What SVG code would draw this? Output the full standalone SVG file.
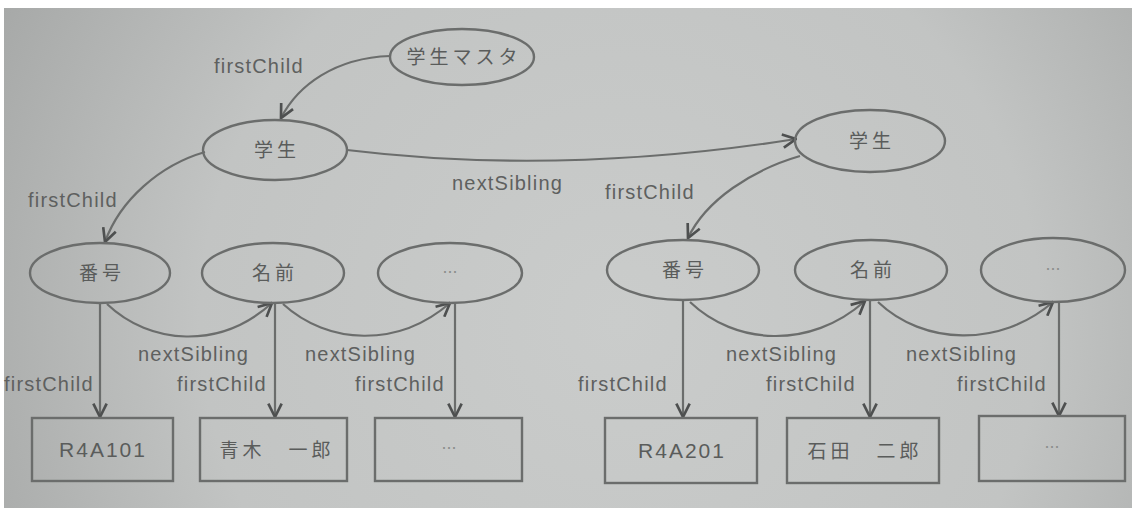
<svg xmlns="http://www.w3.org/2000/svg" width="1132" height="508" viewBox="0 0 1132 508">
  <defs>
    <radialGradient id="paper" gradientUnits="userSpaceOnUse" cx="620" cy="320" r="700">
      <stop offset="0" stop-color="#cacccb"/>
      <stop offset="0.6" stop-color="#c2c4c3"/>
      <stop offset="1" stop-color="#a6a8a7"/>
    </radialGradient>
    <marker id="arrow" markerUnits="userSpaceOnUse" markerWidth="16" markerHeight="16" viewBox="0 0 12 12" refX="11" refY="6" orient="auto">
      <path d="M1,1 L11,6 L1,11" fill="none" stroke="#4e5050" stroke-width="2"/>
    </marker>
    <style>
      .node { fill: none; stroke: #6b6d6c; stroke-width: 2.4; }
      .edge { fill: none; stroke: #6b6d6c; stroke-width: 2.2; marker-end: url(#arrow); }
      .jp { font-family: "Noto Sans CJK JP", "Noto Sans", sans-serif; font-size: 19px; fill: #5a5c5b; text-anchor: middle; letter-spacing: 4px; }
      .dots { font-family: "Noto Sans CJK JP", sans-serif; font-size: 15px; fill: #8a8c8b; text-anchor: middle; }
      .code { font-family: "Liberation Sans", Arial, sans-serif; font-size: 21px; fill: #5a5c5b; text-anchor: middle; letter-spacing: 2px; }
      .lbl { font-family: "Liberation Sans", Arial, sans-serif; font-size: 20px; fill: #5e605f; letter-spacing: 1.2px; }
    </style>
  </defs>

  <!-- page -->
  <rect x="0" y="0" width="1132" height="508" fill="#ffffff"/>
  <rect x="4" y="8" width="1128" height="500" fill="url(#paper)"/>

  <!-- connectors -->
  <g id="connectors">
    <path class="edge" d="M390,56 C335,58 298,85 281,118"/>
    <path class="edge" d="M205,152 C160,165 120,200 105,242"/>
    <path class="edge" d="M347,150 Q560,176 796,139"/>
    <path class="edge" d="M800,156 C752,170 706,200 688,238"/>

    <!-- left subtree -->
    <path class="edge" d="M100,303 L100,417"/>
    <path class="edge" d="M275,303 L275,417"/>
    <path class="edge" d="M455,303 L455,417"/>
    <path class="edge" d="M107,304 C150,345 220,350 272,303"/>
    <path class="edge" d="M283,304 C328,345 398,348 450,303"/>

    <!-- right subtree -->
    <path class="edge" d="M683,300 L683,417"/>
    <path class="edge" d="M870,300 L870,417"/>
    <path class="edge" d="M1059,302 L1059,416"/>
    <path class="edge" d="M690,302 C735,345 810,350 865,301"/>
    <path class="edge" d="M878,302 C923,345 1000,348 1053,302"/>

    <!-- connector labels -->
    <text class="lbl" x="214" y="73">firstChild</text>
    <text class="lbl" x="28" y="207">firstChild</text>
    <text class="lbl" x="452" y="190">nextSibling</text>
    <text class="lbl" x="605" y="199">firstChild</text>

    <text class="lbl" x="138" y="361">nextSibling</text>
    <text class="lbl" x="305" y="361">nextSibling</text>
    <text class="lbl" x="4" y="391">firstChild</text>
    <text class="lbl" x="177" y="391">firstChild</text>
    <text class="lbl" x="355" y="391">firstChild</text>

    <text class="lbl" x="726" y="361">nextSibling</text>
    <text class="lbl" x="906" y="361">nextSibling</text>
    <text class="lbl" x="578" y="391">firstChild</text>
    <text class="lbl" x="766" y="391">firstChild</text>
    <text class="lbl" x="957" y="391">firstChild</text>
  </g>

  <!-- element nodes -->
  <g id="master">
    <ellipse class="node" cx="462" cy="57" rx="72" ry="28"/>
    <text class="jp" x="464" y="64">学生マスタ</text>
  </g>
  <g id="student1">
    <ellipse class="node" cx="275" cy="150" rx="72" ry="30"/>
    <text class="jp" x="277" y="157">学生</text>
  </g>
  <g id="student2">
    <ellipse class="node" cx="870" cy="141" rx="75" ry="31"/>
    <text class="jp" x="872" y="148">学生</text>
  </g>

  <g id="number1">
    <ellipse class="node" cx="100" cy="273" rx="70" ry="30"/>
    <text class="jp" x="102" y="280">番号</text>
  </g>
  <g id="name1">
    <ellipse class="node" cx="273" cy="273" rx="71" ry="30"/>
    <text class="jp" x="275" y="280">名前</text>
  </g>
  <g id="more1">
    <ellipse class="node" cx="450" cy="273" rx="72" ry="30"/>
    <text class="dots" x="450" y="278">…</text>
  </g>

  <g id="number2">
    <ellipse class="node" cx="683" cy="270" rx="76" ry="30"/>
    <text class="jp" x="685" y="277">番号</text>
  </g>
  <g id="name2">
    <ellipse class="node" cx="871" cy="270" rx="76" ry="30"/>
    <text class="jp" x="873" y="277">名前</text>
  </g>
  <g id="more2">
    <ellipse class="node" cx="1053" cy="270" rx="72" ry="32"/>
    <text class="dots" x="1053" y="275">…</text>
  </g>

  <!-- text nodes -->
  <g id="text-number1">
    <rect class="node" x="32" y="418" width="141" height="63"/>
    <text class="code" x="103" y="457">R4A101</text>
  </g>
  <g id="text-name1">
    <rect class="node" x="200" y="418" width="147" height="63"/>
    <text class="jp" x="277" y="457">青木　一郎</text>
  </g>
  <g id="text-more1">
    <rect class="node" x="375" y="418" width="147" height="63"/>
    <text class="dots" x="449" y="454">…</text>
  </g>

  <g id="text-number2">
    <rect class="node" x="605" y="418" width="152" height="65"/>
    <text class="code" x="682" y="458">R4A201</text>
  </g>
  <g id="text-name2">
    <rect class="node" x="787" y="418" width="152" height="65"/>
    <text class="jp" x="865" y="458">石田　二郎</text>
  </g>
  <g id="text-more2">
    <rect class="node" x="979" y="416" width="146" height="65"/>
    <text class="dots" x="1052" y="453">…</text>
  </g>
</svg>
